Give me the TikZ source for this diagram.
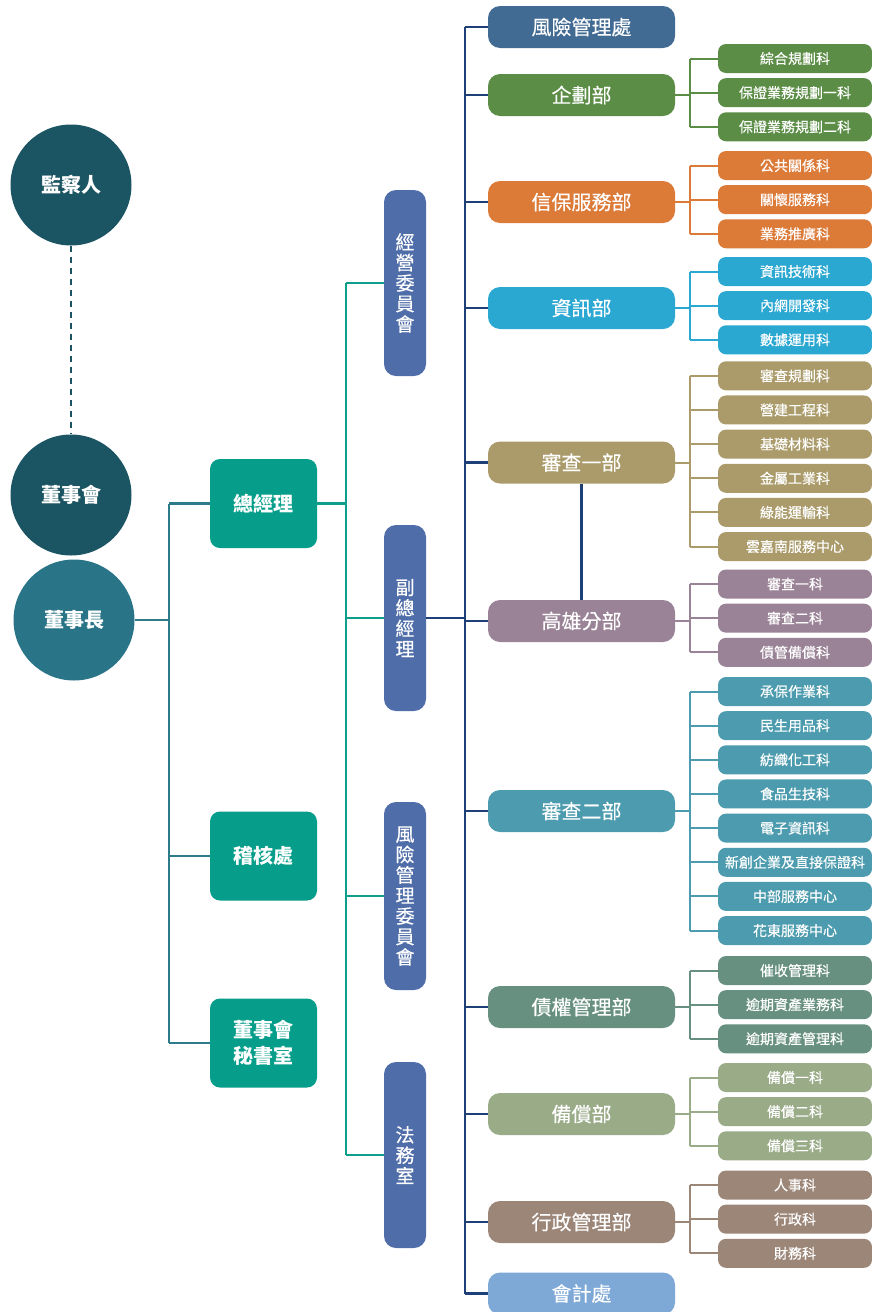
\documentclass[tikz,border=0pt]{standalone}
\usepackage{fontspec}
\setmainfont{Noto Sans CJK TC}
\newfontfamily\medfont{Noto Sans CJK TC}[FakeBold=0.35]
\usetikzlibrary{calc}
\definecolor{cDark}{HTML}{1B5462}
\definecolor{cChair}{HTML}{297587}
\definecolor{cLeft}{HTML}{2C7A8A}
\definecolor{cGM}{HTML}{069E8A}
\definecolor{cTeal}{HTML}{0E9F8C}
\definecolor{cV}{HTML}{4F6DA8}
\definecolor{cNavy}{HTML}{1F3F78}
\definecolor{cRisk}{HTML}{426B93}
\definecolor{cPlan}{HTML}{5C8D46}
\definecolor{cGuar}{HTML}{DC7A38}
\definecolor{cInfo}{HTML}{2AA8D2}
\definecolor{cRevA}{HTML}{AB9B6A}
\definecolor{cKH}{HTML}{9A8396}
\definecolor{cRevB}{HTML}{4C9BAE}
\definecolor{cDebt}{HTML}{679080}
\definecolor{cComp}{HTML}{9AAB88}
\definecolor{cAdm}{HTML}{9C8678}
\definecolor{cAcct}{HTML}{7EA9D7}
\tikzset{
  circ/.style={circle, minimum size=121pt, inner sep=0pt, text=white, font=\fontsize{20}{24}\selectfont\bfseries},
  gbox/.style={rounded corners=10pt, minimum width=107pt, minimum height=89pt, inner sep=0pt, fill=cGM, text=white, align=center, font=\fontsize{20}{26}\selectfont\bfseries},
  vbox/.style={rounded corners=12pt, minimum width=42pt, inner sep=0pt, fill=cV, text=white, align=center, font=\medfont\fontsize{19}{20.5}\selectfont},
  dept/.style={rounded corners=12pt, minimum width=187pt, minimum height=42pt, inner sep=0pt, text=white, font=\medfont\fontsize{20}{22}\selectfont},
  subbox/.style={rounded corners=8pt, minimum width=154pt, minimum height=29pt, inner sep=0pt, text=white, font=\medfont\fontsize{14}{16}\selectfont},
  sline/.style={line width=2pt},
  bline/.style={line width=2.5pt},
}
\newcommand\subunits[5]{%
  \foreach \t [count=\i from 0] in {#5} {
    \node[subbox, fill=#2] (#1s\i) at (795,{#3+34.15*\i}) {\t};
    \draw[sline, draw=#2] (#1s\i.west) -- ++(-28,0);
  }
  \draw[sline, draw=#2] ($(#1s0.west)+(-28,0)$) -- ($(#1s#4.west)+(-28,0)$);
  \draw[sline, draw=#2] (#1.east) -- ++(15,0);
}
\begin{document}
\begin{tikzpicture}[x=1pt,y=-1pt]
\useasboundingbox (0,0) rectangle (872,1312);
\fill[white] (0,0) rectangle (872,1312);

% left column
\node[circ, fill=cDark] (jian) at (71,185) {監察人};
\node[circ, fill=cDark] (board) at (71,495) {董事會};
\node[circ, fill=cChair] (chair) at (74,620) {董事長};
\draw[line width=2.5pt, cDark, dash pattern=on 6pt off 5pt] (jian.south) -- (board.north);

\node[gbox] (gm) at (263.5,503.5) {總經理};
\node[gbox] (audit) at (263.5,856) {稽核處};
\node[gbox] (sec) at (263.5,1043) {董事會\\秘書室};

\coordinate (lb) at (169,0);
\draw[bline, cLeft] (chair.east) -- (chair.east -| lb);
\draw[bline, cLeft] (gm.west -| lb) -- (sec.west -| lb);
\foreach \n in {gm,audit,sec} \draw[bline, cLeft] (\n.west) -- (\n.west -| lb);

% vertical boxes
\node[vbox, minimum height=186pt] (v1) at (405,283) {經\\營\\委\\員\\會};
\node[vbox, minimum height=186pt] (v2) at (405,618) {副\\總\\經\\理};
\node[vbox, minimum height=188pt] (v3) at (405,896) {風\\險\\管\\理\\委\\員\\會};
\node[vbox, minimum height=186pt] (v4) at (405,1155) {法\\務\\室};

\coordinate (tb) at (346,0);
\draw[bline, cTeal] (gm.east) -- (gm.east -| tb);
\draw[bline, cTeal] (v1.west -| tb) -- (v4.west -| tb);
\foreach \n in {v1,v2,v3,v4} \draw[bline, cTeal] (\n.west) -- (\n.west -| tb);

% departments
\node[dept, fill=cRisk] (risk) at (581.5,27) {風險管理處};
\node[dept, fill=cPlan] (plan) at (581.5,95) {企劃部};
\node[dept, fill=cGuar] (guar) at (581.5,202) {信保服務部};
\node[dept, fill=cInfo] (info) at (581.5,308) {資訊部};
\node[dept, fill=cRevA] (revA) at (581.5,462.5) {審查一部};
\node[dept, fill=cKH] (kh) at (581.5,621) {高雄分部};
\node[dept, fill=cRevB] (revB) at (581.5,811) {審查二部};
\node[dept, fill=cDebt] (debt) at (581.5,1007) {債權管理部};
\node[dept, fill=cComp] (comp) at (581.5,1114) {備償部};
\node[dept, fill=cAdm] (adm) at (581.5,1222) {行政管理部};
\node[dept, fill=cAcct] (acct) at (581.5,1293.5) {會計處};

\coordinate (nb) at (465,0);
\draw[bline, cNavy] (v2.east) -- (v2.east -| nb);
\draw[bline, cNavy] (risk.west -| nb) -- (acct.west -| nb);
\foreach \n in {risk,plan,guar,info,revA,kh,revB,debt,comp,adm,acct}
  \draw[bline, cNavy] (\n.west) -- (\n.west -| nb);
\draw[bline, cNavy] (revA.south) -- (kh.north);

% sub units
\subunits{plan}{cPlan}{58.5}{2}{綜合規劃科,保證業務規劃一科,保證業務規劃二科}
\subunits{guar}{cGuar}{165.5}{2}{公共關係科,關懷服務科,業務推廣科}
\subunits{info}{cInfo}{271.5}{2}{資訊技術科,內網開發科,數據運用科}
\subunits{revA}{cRevA}{375.8}{5}{審查規劃科,營建工程科,基礎材料科,金屬工業科,綠能運輸科,雲嘉南服務中心}
\subunits{kh}{cKH}{584}{2}{審查一科,審查二科,債管備償科}
\subunits{revB}{cRevB}{691.5}{7}{承保作業科,民生用品科,紡織化工科,食品生技科,電子資訊科,新創企業及直接保證科,中部服務中心,花東服務中心}
\subunits{debt}{cDebt}{970.5}{2}{催收管理科,逾期資產業務科,逾期資產管理科}
\subunits{comp}{cComp}{1077.5}{2}{備償一科,備償二科,備償三科}
\subunits{adm}{cAdm}{1185}{2}{人事科,行政科,財務科}
\end{tikzpicture}
\end{document}
